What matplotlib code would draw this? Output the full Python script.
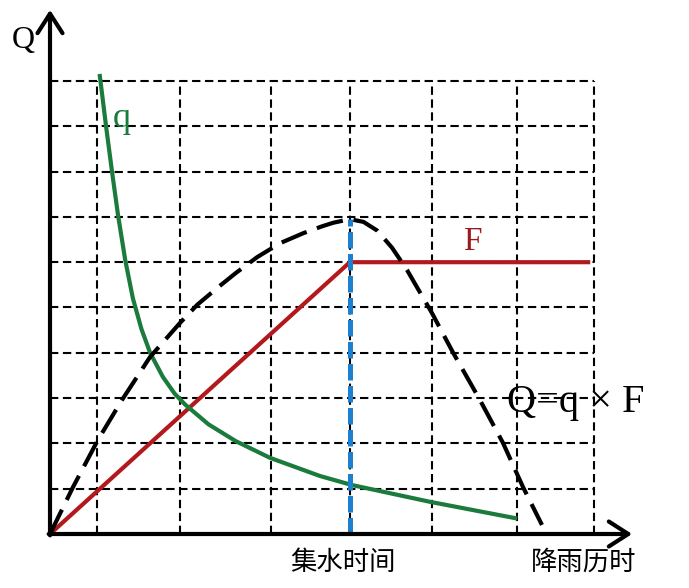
import numpy as np
import matplotlib.pyplot as plt

# 数据（单位：一个网格高度）
grid_x = [1.04, 2.87, 4.88, 6.62, 8.43, 10.31, 12.0]
grid_y = [1, 2, 3, 4, 5, 6, 7, 8, 9, 10]

# q 曲线（暴雨强度）
q_x = [1.10, 1.24, 1.37, 1.50, 1.66, 1.83, 2.02, 2.21, 2.49, 2.75, 2.98, 3.50, 4.10, 4.86, 5.96, 6.67, 8.39, 10.27]
q_y = [10.11, 8.98, 7.99, 7.05, 6.05, 5.20, 4.52, 4.00, 3.47, 3.10, 2.86, 2.42, 2.05, 1.68, 1.28, 1.08, 0.71, 0.35]

# F 汇水面积
F_x = [0, 6.62, 11.88]
F_y = [0, 6.0, 6.0]

# Q = q x F
Q_x = [0, 0.51, 1.06, 1.59, 2.21, 2.87, 3.25, 3.69, 4.10, 4.57, 5.08, 5.59, 6.0, 6.25, 6.62,
       6.92, 7.22, 7.55, 7.88, 8.43, 8.90, 9.49, 10.00, 10.44, 10.86]
Q_y = [0, 1.04, 2.08, 2.96, 3.91, 4.66, 5.06, 5.43, 5.76, 6.11, 6.42, 6.64, 6.79, 6.87, 6.95,
       6.89, 6.70, 6.32, 5.83, 4.88, 4.00, 2.96, 2.01, 1.04, 0.20]

t_c = 6.62      # 集水时间
Q_peak = 6.95

fig = plt.figure(figsize=(6.89, 5.88), dpi=100)
ax = fig.add_axes([0, 0, 1, 1])
ax.set_xlim(-1.104, 14.106)
ax.set_ylim(-1.192, 11.788)
ax.axis('off')

# 网格
for gy in grid_y:
    ax.plot([0, grid_x[-1]], [gy, gy], color='black', lw=1.5, dashes=(4, 2.2), zorder=1)
for gx in grid_x:
    ax.plot([gx, gx], [0, grid_y[-1]], color='black', lw=1.5, dashes=(4, 2.2), zorder=1)

# 曲线
ax.plot(F_x, F_y, color='#b3191c', lw=3, zorder=3, solid_joinstyle='miter')
ax.plot(q_x, q_y, color='#1b7b3c', lw=3, zorder=3)
ax.plot(Q_x, Q_y, color='black', lw=3, dashes=(6.5, 2.6), zorder=4)
ax.plot([t_c, t_c], [0, Q_peak], color='#1c7fd0', lw=3.6, dashes=(3.3, 1.1), zorder=5)

# 坐标轴（箭头）
arrow = dict(arrowstyle='->,head_length=0.7,head_width=0.45', lw=3, color='black',
             shrinkA=0, shrinkB=0, mutation_scale=20)
ax.annotate('', xy=(12.85, 0), xytext=(-0.03, 0), arrowprops=arrow, zorder=6)
ax.annotate('', xy=(0, 11.57), xytext=(0, -0.03), arrowprops=arrow, zorder=6)

serif = 'Liberation Serif'
ax.text(-0.6, 10.9, 'Q', fontsize=23, family=serif, ha='center', va='center')
ax.text(1.59, 8.98, 'q', fontsize=26, family=serif, color='#1b7b3c', ha='center', va='baseline')
ax.text(9.32, 6.27, 'F', fontsize=24, family=serif, color='#9b1a1a', ha='center', va='baseline')
ax.text(10.09, 2.69, 'Q=q × F', fontsize=29, family=serif, ha='left', va='baseline')

cjk = ['Noto Sans CJK SC', 'DejaVu Sans']
ax.text(6.47, -0.62, '集水时间', fontsize=19, family=cjk, ha='center', va='center')
ax.text(11.79, -0.62, '降雨历时', fontsize=19, family=cjk, ha='center', va='center')

fig.savefig('out.png', dpi=100)
